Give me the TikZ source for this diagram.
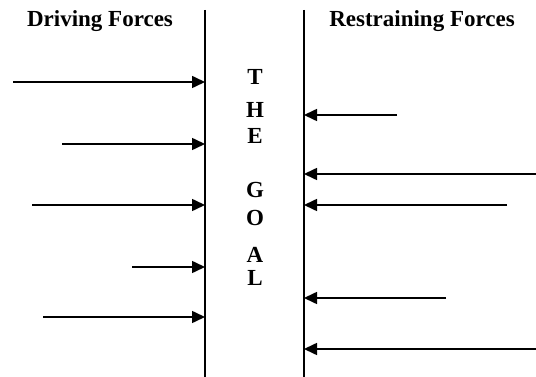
\documentclass[tikz,border=0pt]{standalone}
\usepackage{fontspec}
\setmainfont{Liberation Serif}
\usetikzlibrary{arrows.meta}
\begin{document}
\begin{tikzpicture}[x=1pt,y=-1pt,
  wall/.style={line width=1.7pt},
  force/.style={line width=1.6pt,-{Triangle[length=13pt,width=12pt]}},
  heading/.style={font=\fontsize{23}{26}\selectfont\bfseries,anchor=base,inner sep=0pt},
  goalletter/.style={font=\fontsize{23}{26}\selectfont\bfseries,anchor=center,inner sep=0pt}]
  \useasboundingbox (0,0) rectangle (536,377);

  % headings
  \node[heading] (drv) at (100,27) {Driving Forces};
  \node[heading] (rst) at (422,27) {Restraining Forces};

  % the two boundaries of the goal
  \coordinate (lt) at (205,10);
  \coordinate (lb) at (205,377);
  \coordinate (rt) at (304,10);
  \coordinate (rb) at (304,377);
  \draw[wall] (lt) -- (lb);
  \draw[wall] (rt) -- (rb);

  % the goal, spelled downwards
  \node[goalletter] (g1) at (255,77) {T};
  \node[goalletter] (g2) at (255,110) {H};
  \node[goalletter] (g3) at (255,136) {E};
  \node[goalletter] (g4) at (255,190) {G};
  \node[goalletter] (g5) at (255,218) {O};
  \node[goalletter] (g6) at (255,255) {A};
  \node[goalletter] (g7) at (255,278) {L};

  % driving forces, pushing right
  \coordinate (d1s) at (13,82);   \coordinate (d1e) at (205,82);
  \coordinate (d2s) at (62,144);  \coordinate (d2e) at (205,144);
  \coordinate (d3s) at (32,205);  \coordinate (d3e) at (205,205);
  \coordinate (d4s) at (132,267); \coordinate (d4e) at (205,267);
  \coordinate (d5s) at (43,317);  \coordinate (d5e) at (205,317);
  \draw[force] (d1s) -- (d1e);
  \draw[force] (d2s) -- (d2e);
  \draw[force] (d3s) -- (d3e);
  \draw[force] (d4s) -- (d4e);
  \draw[force] (d5s) -- (d5e);

  % restraining forces, pushing left
  \coordinate (r1s) at (397,115); \coordinate (r1e) at (304,115);
  \coordinate (r2s) at (536,174); \coordinate (r2e) at (304,174);
  \coordinate (r3s) at (507,205); \coordinate (r3e) at (304,205);
  \coordinate (r4s) at (446,298); \coordinate (r4e) at (304,298);
  \coordinate (r5s) at (536,349); \coordinate (r5e) at (304,349);
  \draw[force] (r1s) -- (r1e);
  \draw[force] (r2s) -- (r2e);
  \draw[force] (r3s) -- (r3e);
  \draw[force] (r4s) -- (r4e);
  \draw[force] (r5s) -- (r5e);
\end{tikzpicture}
\end{document}
